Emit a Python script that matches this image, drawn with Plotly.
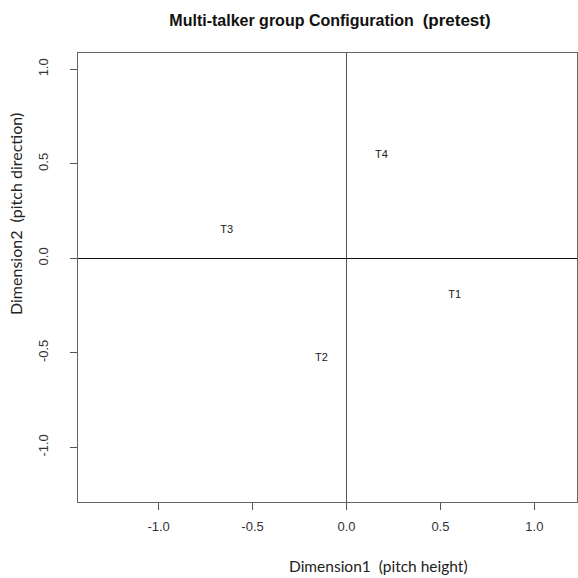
import plotly.graph_objects as go

labels = ["T1", "T2", "T3", "T4"]
dim1 = [0.576, -0.133, -0.638, 0.186]
dim2 = [-0.194, -0.529, 0.150, 0.547]
tick_vals = [-1.0, -0.5, 0.0, 0.5, 1.0]
tick_text = ["-1.0", "-0.5", "0.0", "0.5", "1.0"]

fig = go.Figure()
fig.add_trace(go.Scatter(
    x=dim1, y=dim2, text=labels, mode="text",
    textfont=dict(family="Liberation Sans, Arial", size=11, color="#222"),
    showlegend=False, hoverinfo="skip"))

fig.update_layout(
    width=578, height=578,
    margin=dict(l=78, r=1, t=53, b=76),
    paper_bgcolor="white", plot_bgcolor="white",
    font=dict(family="Liberation Sans, Arial", color="#333"),
    title=dict(text="<b>Multi-talker group Configuration  <span style='font-size:17px'>(pretest)</span></b>",
               x=330 / 578, xanchor="center", y=1 - 20 / 578, yanchor="middle",
               font=dict(size=16, color="#111")),
    xaxis=dict(range=[-1.429, 1.227], tickvals=tick_vals, ticktext=tick_text,
               ticks="outside", ticklen=7, tickcolor="#555", tickwidth=1,
               showline=True, linecolor="#666", linewidth=1, mirror=True,
               showgrid=False, zeroline=True, zerolinecolor="#555", zerolinewidth=1.3,
               ticklabelstandoff=5,
               tickfont=dict(size=13, color="#333")),
    yaxis=dict(range=[-1.289, 1.086], tickvals=tick_vals, ticktext=tick_text,
               ticks="outside", ticklen=7, tickcolor="#555", tickwidth=1, tickangle=-90,
               showline=True, linecolor="#666", linewidth=1, mirror=True,
               showgrid=False, zeroline=True, zerolinecolor="#111", zerolinewidth=1.2,
               ticklabelstandoff=17,
               tickfont=dict(size=13, color="#333")),
    annotations=[
        dict(text="Dimension1  (pitch height)", xref="paper", yref="paper",
             x=(378 - 78) / 499, y=-(566 - 502) / 449, xanchor="center", yanchor="middle",
             showarrow=False, font=dict(family="Lato, Open Sans", size=15.5, color="#222")),
        dict(text="Dimension2  (pitch direction)", xref="paper", yref="paper",
             x=-(78 - 16) / 499, y=(502 - 214) / 449, xanchor="center", yanchor="middle",
             textangle=-90, showarrow=False,
             font=dict(family="Lato, Open Sans", size=16, color="#222")),
    ],
)

fig.write_html("out.html")
